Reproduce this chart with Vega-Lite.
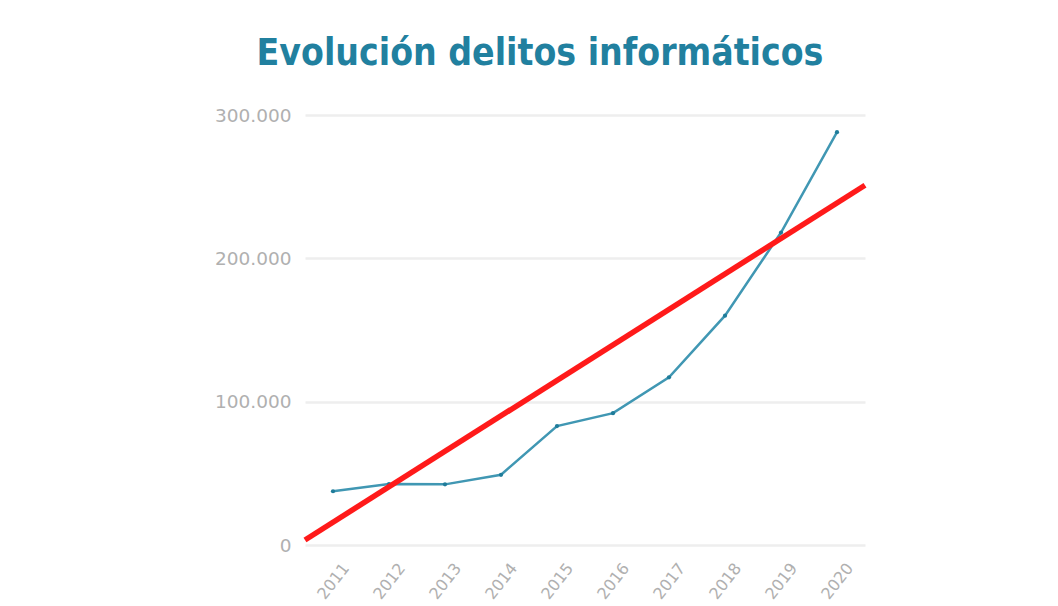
{
  "$schema": "https://vega.github.io/schema/vega-lite/v6.json",
  "autosize": {"type": "none"},
  "width": 560,
  "height": 430,
  "padding": {"left": 305, "top": 115, "right": 193, "bottom": 61},
  "background": "white",
  "title": {
    "text": "Evolución delitos informáticos",
    "font": "DejaVu Sans Condensed",
    "fontWeight": "bold",
    "fontSize": 37,
    "color": "#21809f",
    "anchor": "middle",
    "frame": "group",
    "dx": -45,
    "offset": 33
  },
  "datasets": {
    "delitos": [
      {"year": 2011, "valor": 37500},
      {"year": 2012, "valor": 42500},
      {"year": 2013, "valor": 42300},
      {"year": 2014, "valor": 49000},
      {"year": 2015, "valor": 83000},
      {"year": 2016, "valor": 92000},
      {"year": 2017, "valor": 117000},
      {"year": 2018, "valor": 160000},
      {"year": 2019, "valor": 218000},
      {"year": 2020, "valor": 288000}
    ],
    "tendencia": [
      {"year": 2010.5, "valor": 3500},
      {"year": 2020.5, "valor": 251000}
    ]
  },
  "encoding": {
    "x": {
      "field": "year",
      "type": "quantitative",
      "scale": {"domain": [2010.5, 2020.5], "nice": false, "zero": false},
      "axis": {
        "values": [2011, 2012, 2013, 2014, 2015, 2016, 2017, 2018, 2019, 2020],
        "format": "d",
        "labelAngle": -52,
        "labelAlign": "center",
        "labelBaseline": "middle",
        "labelPadding": 36,
        "labelFont": "DejaVu Sans",
        "labelFontSize": 16,
        "labelColor": "#b0b0b0",
        "grid": false,
        "domain": false,
        "ticks": false,
        "title": null
      }
    },
    "y": {
      "field": "valor",
      "type": "quantitative",
      "scale": {"domain": [0, 300000], "nice": false},
      "axis": {
        "values": [0, 100000, 200000, 300000],
        "labelExpr": "replace(format(datum.value, ','), regexp(',', 'g'), '.')",
        "labelFont": "DejaVu Sans",
        "labelFontSize": 18.5,
        "labelColor": "#b0b0b0",
        "labelPadding": 14,
        "grid": true,
        "gridColor": "#eeeeee",
        "gridWidth": 2.5,
        "domain": false,
        "ticks": false,
        "title": null
      }
    }
  },
  "layer": [
    {
      "data": {"name": "delitos"},
      "mark": {"type": "line", "color": "#4097b3", "strokeWidth": 2.5, "point": {"filled": true, "color": "#1f7c9a", "size": 18}}
    },
    {
      "data": {"name": "tendencia"},
      "mark": {"type": "line", "color": "#ff1a1a", "strokeWidth": 5.5}
    }
  ],
  "config": {"view": {"stroke": null}}
}
